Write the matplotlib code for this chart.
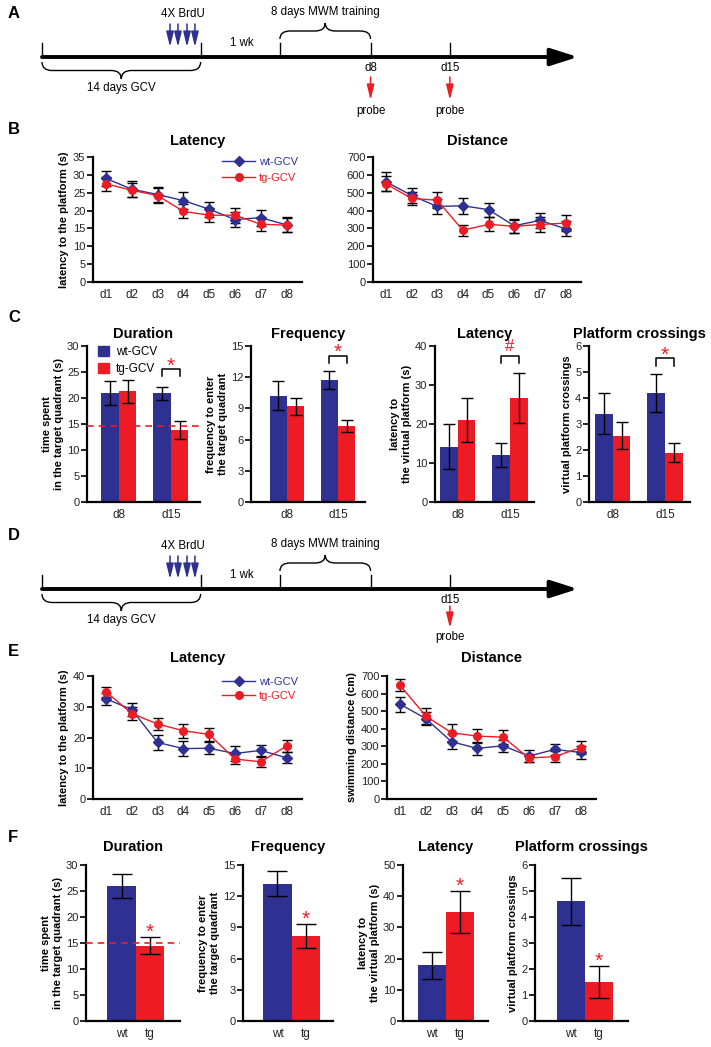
import matplotlib
matplotlib.use('Agg')
import matplotlib.pyplot as plt
from matplotlib.path import Path
from matplotlib.patches import PathPatch, Patch
import numpy as np

plt.rcParams['font.family'] = ['Liberation Sans', 'DejaVu Sans']

BLUE = '#2E3192'
RED = '#ED1C24'
W, H = 711, 1047

# ---------------- data ----------------
days = ['d1', 'd2', 'd3', 'd4', 'd5', 'd6', 'd7', 'd8']
probes = ['d8', 'd15']
groups = ['wt', 'tg']

# B: training, two probes
b_lat_wt = [29.0, 26.0, 24.5, 22.8, 20.4, 17.5, 18.0, 16.0]
b_lat_wt_err = [2.2, 2.2, 2.2, 2.4, 2.1, 2.0, 2.2, 2.1]
b_lat_tg = [27.5, 25.7, 24.2, 19.8, 18.7, 18.7, 16.2, 15.9]
b_lat_tg_err = [2.0, 1.9, 2.0, 2.0, 1.9, 2.1, 2.0, 2.0]

b_dist_wt = [562, 485, 423, 427, 405, 315, 345, 298]
b_dist_wt_err = [52, 40, 40, 45, 40, 40, 40, 43]
b_dist_tg = [550, 468, 458, 290, 323, 312, 322, 330]
b_dist_tg_err = [42, 35, 45, 30, 40, 37, 40, 45]

# C: probe tests d8 / d15
c_dur_wt, c_dur_wt_err = [20.9, 20.9], [2.3, 1.2]
c_dur_tg, c_dur_tg_err = [21.3, 13.9], [2.2, 1.75]
c_freq_wt, c_freq_wt_err = [10.2, 11.7], [1.4, 0.85]
c_freq_tg, c_freq_tg_err = [9.2, 7.3], [0.8, 0.6]
c_lat_wt, c_lat_wt_err = [14.2, 12.1], [5.7, 3.1]
c_lat_tg, c_lat_tg_err = [21.1, 26.7], [5.6, 6.5]
c_cross_wt, c_cross_wt_err = [3.4, 4.2], [0.8, 0.73]
c_cross_tg, c_cross_tg_err = [2.55, 1.9], [0.52, 0.37]
c_chance = 14.7

# E: training, one probe
e_lat_wt = [32.6, 29.1, 18.4, 16.4, 16.5, 14.8, 15.8, 13.4]
e_lat_wt_err = [2.0, 2.1, 2.5, 2.4, 2.0, 2.3, 1.8, 1.8]
e_lat_tg = [34.9, 27.8, 24.4, 22.2, 21.0, 13.0, 12.1, 17.2]
e_lat_tg_err = [1.6, 2.2, 2.1, 2.3, 2.0, 1.6, 1.6, 2.0]

e_dist_wt = [540, 458, 326, 288, 303, 244, 282, 265]
e_dist_wt_err = [43, 35, 44, 37, 34, 34, 30, 38]
e_dist_tg = [648, 473, 377, 358, 352, 233, 241, 292]
e_dist_tg_err = [35, 46, 47, 42, 38, 25, 33, 38]

# F: probe d15
f_dur, f_dur_err = [25.9, 14.5], [2.3, 1.6]
f_freq, f_freq_err = [13.2, 8.15], [1.2, 1.15]
f_lat, f_lat_err = [17.8, 35.0], [4.3, 6.7]
f_cross, f_cross_err = [4.6, 1.5], [0.9, 0.6]
f_chance = 15

# timeline (days)
gcv_days = 14
brdu_days = [11.3, 12.0, 12.8, 13.5]
mwm_start, mwm_end, last_probe = 21, 29, 36

fig = plt.figure(figsize=(W / 100, H / 100), dpi=100)


def px_axes(left, top, right, bottom):
    return fig.add_axes([left / W, 1 - bottom / H, (right - left) / W, (bottom - top) / H])


def style(ax):
    for s in ['top', 'right']:
        ax.spines[s].set_visible(False)
    for s in ['left', 'bottom']:
        ax.spines[s].set_linewidth(1.6)
    ax.tick_params(axis='y', length=4, width=1.4, labelsize=8, pad=1.5, colors='#222222')
    ax.tick_params(axis='x', length=0, labelsize=8.5, pad=5, colors='#222222')


def brace(ax, x0, x1, y_end, y_tip, r=0.9):
    ym = (y_end + y_tip) / 2
    xm = (x0 + x1) / 2
    verts = [(x0, y_end), (x0, ym), (x0 + r, ym), (xm - r, ym), (xm, ym), (xm, y_tip),
             (xm, ym), (xm + r, ym), (x1 - r, ym), (x1, ym), (x1, y_end)]
    codes = [Path.MOVETO, Path.CURVE3, Path.CURVE3, Path.LINETO, Path.CURVE3, Path.CURVE3,
             Path.CURVE3, Path.CURVE3, Path.LINETO, Path.CURVE3, Path.CURVE3]
    ax.add_patch(PathPatch(Path(verts, codes), fill=False, lw=1, color='k'))


def small_arrow(ax, x, y0, y1, color):
    ax.annotate('', xy=(x, y1), xytext=(x, y0),
                arrowprops=dict(arrowstyle='-|>,head_length=1.3,head_width=0.32', lw=1.1,
                                color=color, mutation_scale=7, shrinkA=0, shrinkB=0))


def timeline(top, bottom, line_y, probe_list, arrow_off):
    px_day = 11.33
    ax = px_axes(0, top, W, bottom)
    ax.set_xlim(-42 / px_day, (W - 42) / px_day)
    ax.set_ylim(bottom - line_y, top - line_y)
    ax.axis('off')
    ax.annotate('', xy=(47.3, 0), xytext=(0, 0),
                arrowprops=dict(arrowstyle='-|>,head_length=1.1,head_width=0.35', lw=2.8,
                                color='k', mutation_scale=15, shrinkA=0, shrinkB=0))
    for d in [0, gcv_days, mwm_start, mwm_end, last_probe]:
        ax.plot([d, d], [-14, 0], color='k', lw=1)
    for d in brdu_days:
        small_arrow(ax, d, -33, -10, BLUE)
    brace(ax, mwm_start, mwm_end, -18, -34)
    brace(ax, 0, gcv_days, 5, 22)
    fs = 8.3
    ax.text(12.4, -43, '4X BrdU', ha='center', va='center', fontsize=fs)
    ax.text((mwm_start + mwm_end) / 2, -45, '8 days MWM training', ha='center', va='center', fontsize=fs)
    ax.text(17.6, -14, '1 wk', ha='center', va='center', fontsize=fs)
    ax.text(gcv_days / 2, 31, '14 days GCV', ha='center', va='center', fontsize=fs)
    for lab, d in probe_list:
        ax.text(d, 11, lab, ha='center', va='center', fontsize=fs)
        small_arrow(ax, d, arrow_off[0], arrow_off[1], RED)
        ax.text(d, arrow_off[2], 'probe', ha='center', va='center', fontsize=fs)


def training(ax, wt, wt_e, tg, tg_e, ymax, ystep, ylabel, title, pad, legend_anchor=None, spacing=0.5):
    x = np.arange(len(days))
    ax.errorbar(x, wt, yerr=wt_e, fmt='none', ecolor='k', elinewidth=1, capsize=3.5, capthick=1, zorder=2)
    ax.errorbar(x, tg, yerr=tg_e, fmt='none', ecolor='k', elinewidth=1, capsize=3.5, capthick=1, zorder=2)
    l1, = ax.plot(x, wt, color=BLUE, marker='D', ms=5, lw=1, label='wt-GCV', zorder=3)
    l2, = ax.plot(x, tg, color=RED, marker='o', ms=5.5, lw=1, label='tg-GCV', zorder=4)
    ax.set_xticks(x)
    ax.set_xticklabels(days)
    ax.set_xlim(-0.5, 7.6)
    ax.set_ylim(0, ymax)
    ax.set_yticks(np.arange(0, ymax + 1e-9, ystep))
    style(ax)
    if ylabel:
        ax.set_ylabel(ylabel, fontsize=8, fontweight='bold', labelpad=3)
    ax.set_title(title, fontsize=10.5, fontweight='bold', pad=pad)
    if legend_anchor is not None:
        ax.legend(handles=[l1, l2], loc='upper left', bbox_to_anchor=legend_anchor, frameon=False,
                  fontsize=8, handlelength=3.0, handletextpad=0.3, labelspacing=spacing,
                  borderpad=0, borderaxespad=0, labelcolor='linecolor')


def probe_bars(ax, wt, wt_e, tg, tg_e, ymax, ystep, xlim, ylabel, title, mark=None, chance=None, legend=False):
    x = np.arange(len(probes))
    w = 0.337
    ekw = dict(elinewidth=1, capthick=1, ecolor='k')
    ax.bar(x - w / 2, wt, w, color=BLUE, yerr=wt_e, capsize=4.5, error_kw=ekw)
    ax.bar(x + w / 2, tg, w, color=RED, yerr=tg_e, capsize=4.5, error_kw=ekw)
    ax.set_xticks(x)
    ax.set_xticklabels(probes)
    ax.set_xlim(*xlim)
    ax.set_ylim(0, ymax)
    ax.set_yticks(np.arange(0, ymax + 1e-9, ystep))
    style(ax)
    ax.set_ylabel(ylabel, fontsize=8, fontweight='bold', labelpad=2, linespacing=1.3)
    ax.set_title(title, fontsize=10.5, fontweight='bold', pad=6)
    if chance is not None:
        ax.axhline(chance, color=RED, ls=(0, (4, 3)), lw=1.2, zorder=5)
    if mark is not None:
        sym, yb = mark
        x0, x1 = 1 - w / 2, 1 + w / 2
        drop = ymax * 0.045
        ax.plot([x0, x0, x1, x1], [yb - drop, yb, yb, yb - drop], color='k', lw=1.1, clip_on=False)
        if sym == '*':
            ax.text(1, yb + ymax * 0.02, sym, color=RED, ha='center', va='center', fontsize=15)
        else:
            ax.text(1, yb + ymax * 0.06, sym, color=RED, ha='center', va='center', fontsize=12)
    if legend:
        handles = [Patch(color=BLUE, label='wt-GCV'), Patch(color=RED, label='tg-GCV')]
        ax.legend(handles=handles, loc='upper left', bbox_to_anchor=(0.1, 1.0), frameon=False,
                  fontsize=8.5, handlelength=0.9, handleheight=0.9, handletextpad=0.6,
                  labelspacing=0.45, borderpad=0, borderaxespad=0)


def single_bars(ax, vals, errs, ymax, ystep, xlim, ylabel, title, chance=None):
    x = np.arange(len(groups))
    ekw = dict(elinewidth=1, capthick=1, ecolor='k')
    ax.bar(x, vals, 1.0, color=[BLUE, RED], yerr=errs, capsize=7, error_kw=ekw)
    ax.set_xticks(x)
    ax.set_xticklabels(groups)
    ax.set_xlim(*xlim)
    ax.set_ylim(0, ymax)
    ax.set_yticks(np.arange(0, ymax + 1e-9, ystep))
    style(ax)
    ax.set_ylabel(ylabel, fontsize=8, fontweight='bold', labelpad=2, linespacing=1.3)
    ax.set_title(title, fontsize=10.5, fontweight='bold', pad=10)
    if chance is not None:
        ax.axhline(chance, color=RED, ls=(0, (4, 3)), lw=1.2, zorder=5)
    ax.text(1, vals[1] + errs[1] + ymax * 0.03, '*', color=RED, ha='center', va='center', fontsize=15)


def panel_label(letter, y):
    fig.text(8 / W, 1 - y / H, letter, fontsize=12, fontweight='bold', ha='left', va='center')


# ---------------- A ----------------
panel_label('A', 14)
timeline(0, 125, 57, [('d8', mwm_end), ('d15', last_probe)], (20, 43, 54))

# ---------------- B ----------------
panel_label('B', 130)
ax = px_axes(93, 157, 302, 282)
training(ax, b_lat_wt, b_lat_wt_err, b_lat_tg, b_lat_tg_err, 35, 5,
         'latency to the platform (s)', 'Latency', 9, legend_anchor=(0.617, 1.0))
ax = px_axes(373, 157, 581, 282)
training(ax, b_dist_wt, b_dist_wt_err, b_dist_tg, b_dist_tg_err, 700, 100, None, 'Distance', 9)

# ---------------- C ----------------
panel_label('C', 317)
ax = px_axes(87, 346, 200, 502)
probe_bars(ax, c_dur_wt, c_dur_wt_err, c_dur_tg, c_dur_tg_err, 30, 5, (-0.615, 1.56),
           'time spent\nin the target quadrant (s)', 'Duration', mark=('*', 25.5), chance=c_chance, legend=True)
ax = px_axes(251, 346, 365, 502)
probe_bars(ax, c_freq_wt, c_freq_wt_err, c_freq_tg, c_freq_tg_err, 15, 3, (-0.706, 1.53),
           'frequency to enter\nthe target quadrant', 'Frequency', mark=('*', 14.05))
ax = px_axes(435, 346, 534, 502)
probe_bars(ax, c_lat_wt, c_lat_wt_err, c_lat_tg, c_lat_tg_err, 40, 10, (-0.44, 1.46),
           'latency to\nthe virtual platform (s)', 'Latency', mark=('#', 37.4))
ax = px_axes(589, 346, 690, 502)
probe_bars(ax, c_cross_wt, c_cross_wt_err, c_cross_tg, c_cross_tg_err, 6, 1, (-0.46, 1.48),
           'virtual platform crossings', 'Platform crossings', mark=('*', 5.52))

# ---------------- D ----------------
panel_label('D', 535)
timeline(525, 645, 589, [('d15', last_probe)], (17, 39, 48))

# ---------------- E ----------------
panel_label('E', 652)
ax = px_axes(93, 676, 302, 799)
training(ax, e_lat_wt, e_lat_wt_err, e_lat_tg, e_lat_tg_err, 40, 10,
         'latency to the platform (s)', 'Latency', 10, legend_anchor=(0.617, 0.99), spacing=0.35)
ax = px_axes(387, 676, 596, 799)
training(ax, e_dist_wt, e_dist_wt_err, e_dist_tg, e_dist_tg_err, 700, 100,
         'swimming distance (cm)', 'Distance', 10)

# ---------------- F ----------------
panel_label('F', 837)
ax = px_axes(86, 865, 180, 1021)
single_bars(ax, f_dur, f_dur_err, 30, 5, (-1.25, 2.05), 'time spent\nin the target quadrant (s)',
            'Duration', chance=f_chance)
ax = px_axes(243, 865, 333, 1021)
single_bars(ax, f_freq, f_freq_err, 15, 3, (-1.23, 1.98), 'frequency to enter\nthe target quadrant',
            'Frequency')
ax = px_axes(403, 865, 488, 1021)
single_bars(ax, f_lat, f_lat_err, 50, 10, (-1.04, 2.0), 'latency to\nthe virtual platform (s)', 'Latency')
ax = px_axes(535, 865, 628, 1021)
single_bars(ax, f_cross, f_cross_err, 6, 1, (-1.29, 2.04), 'virtual platform crossings',
            'Platform crossings')

fig.savefig('out.png', dpi=100)
